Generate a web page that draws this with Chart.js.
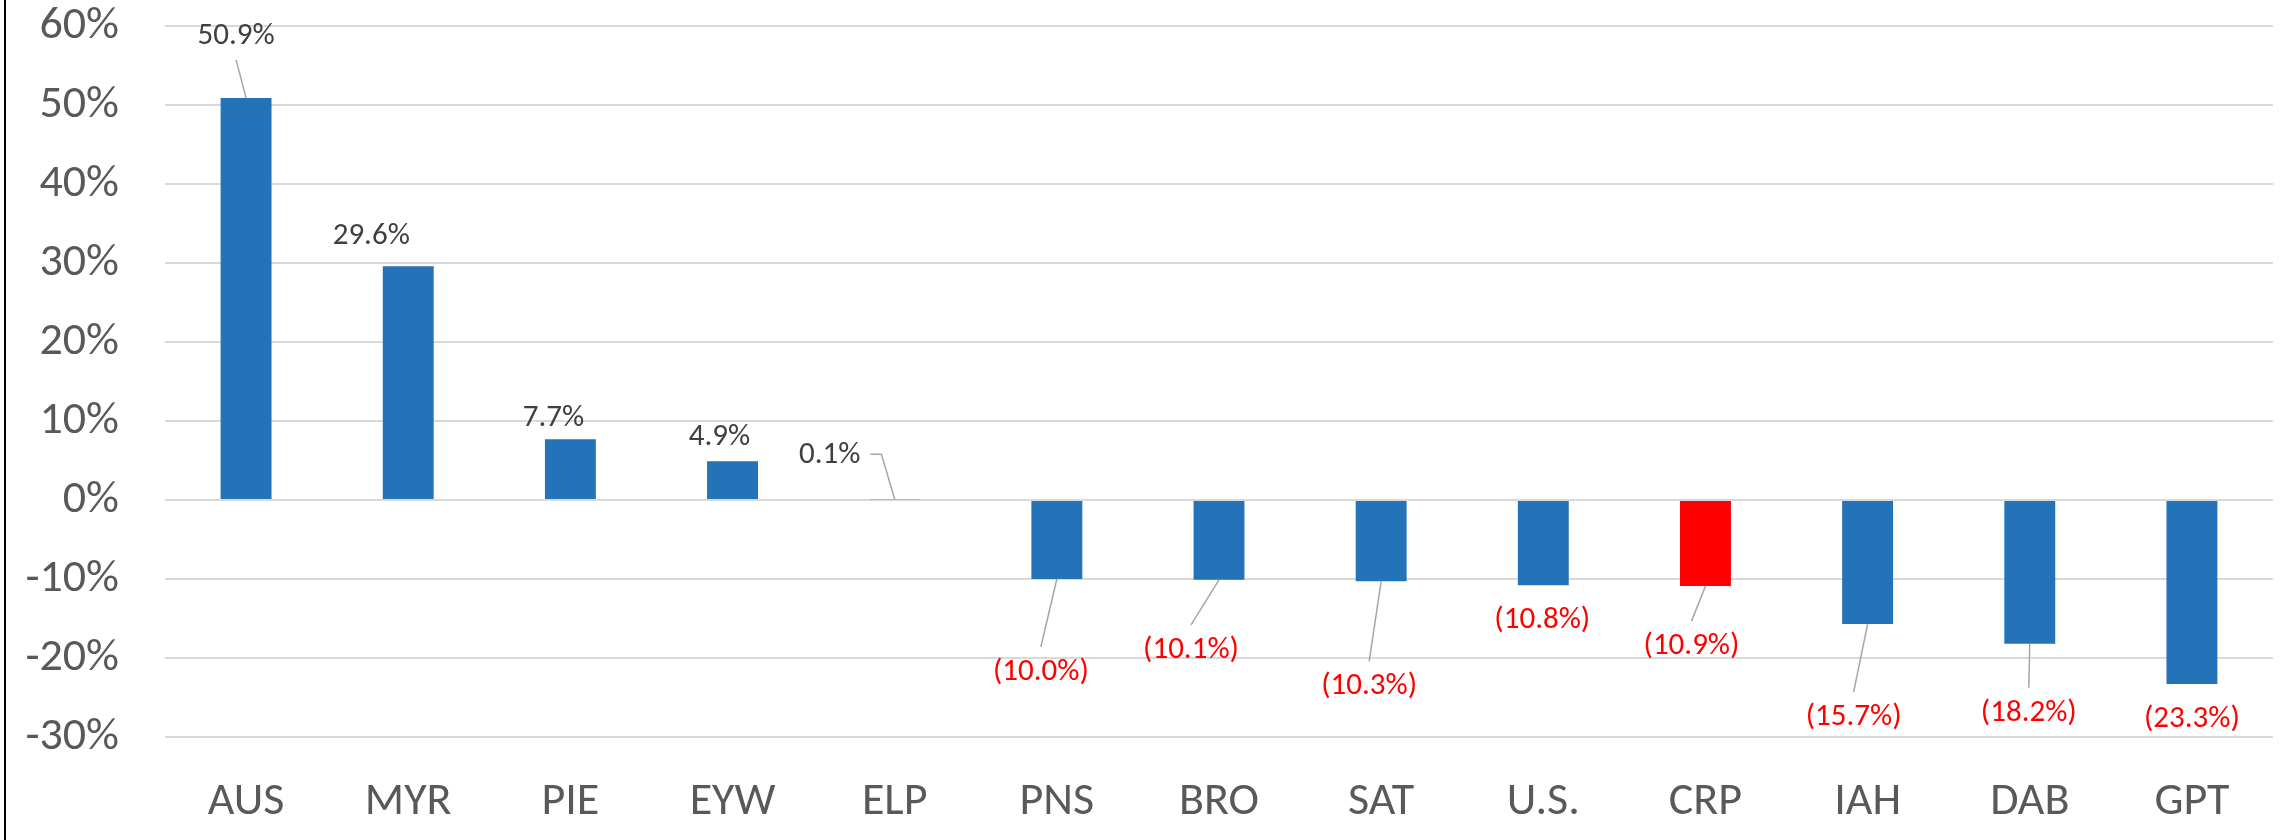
<!DOCTYPE html>
<html>
<head>
<meta charset="utf-8">
<script src="https://cdn.jsdelivr.net/npm/chart.js@4.4.1/dist/chart.umd.min.js"></script>
<style>
  html, body { margin: 0; padding: 0; background: #fff; }
  #wrap { width: 2292px; height: 840px; }
</style>
</head>
<body>
<div id="wrap"><canvas id="chart" width="2292" height="840"></canvas></div>
<script>
// Datos del gráfico
const categories = ['AUS', 'MYR', 'PIE', 'EYW', 'ELP', 'PNS', 'BRO', 'SAT', 'U.S.', 'CRP', 'IAH', 'DAB', 'GPT'];
const changes = [50.9, 29.6, 7.7, 4.9, 0.1, -10.0, -10.1, -10.3, -10.8, -10.9, -15.7, -18.2, -23.3];
const highlighted = 'CRP';
const yMin = -30;
const yMax = 60;
const yStep = 10;

// Posición de cada etiqueta respecto al extremo de la barra: [dx, dy, línea guía]
const labelOffsets = [
    [-10, -62, 'up'], [-37, -30, null], [-17, -21, null], [-13, -24, null], [-65, -44, 'elbow'],
    [-16, 93, 'down'], [-28, 70, 'down'], [-12, 105, 'down'], [-1, 35, null], [-14, 60, 'down'],
    [-14, 93, 'down'], [-1, 69, 'down'], [0, 35, null]
];

// Comprobar si hay una fuente tipo Calibri instalada
function hasFont(name) {
    const c = document.createElement('canvas').getContext('2d');
    const sample = 'AUS 60% (10.9%)';
    c.font = '40px monospace';
    const a = c.measureText(sample).width;
    c.font = `40px "${name}", monospace`;
    return c.measureText(sample).width !== a;
}
const carlito = hasFont('Carlito');
const fontFamily = carlito ? 'Carlito' : '"Liberation Sans"';
const tickSize = carlito ? 46 : 40;
const labelSize = carlito ? 31 : 27;

const blue = '#2473b9';
const red = '#ff0000';

function formatPct(v) {
    return v < 0 ? `(${Math.abs(v).toFixed(1)}%)` : `${v.toFixed(1)}%`;
}

const frame = {
    id: 'frame',
    beforeDraw(chart) {
        const ctx = chart.ctx;
        ctx.save();
        ctx.fillStyle = '#ffffff';
        ctx.fillRect(0, 0, chart.width, chart.height);
        ctx.fillStyle = '#000000';
        ctx.fillRect(4, 0, 2, chart.height);
        ctx.restore();
    }
};

const barLabels = {
    id: 'barLabels',
    afterDatasetsDraw(chart) {
        const ctx = chart.ctx;
        const meta = chart.getDatasetMeta(0);
        ctx.save();
        ctx.font = `${labelSize}px ${fontFamily}`;
        ctx.textAlign = 'center';
        ctx.textBaseline = 'middle';
        meta.data.forEach((bar, i) => {
            const v = changes[i];
            const [dx, dy, leader] = labelOffsets[i];
            const lx = bar.x + dx;
            const ly = bar.y + dy;
            const text = formatPct(v);
            ctx.strokeStyle = '#a6a6a6';
            ctx.lineWidth = 1.5;
            if (leader) {
                ctx.beginPath();
                if (leader === 'up') {
                    ctx.moveTo(lx, ly + 24);
                } else if (leader === 'down') {
                    ctx.moveTo(lx, ly - 25);
                } else {
                    const w = ctx.measureText(text).width;
                    ctx.moveTo(lx + w / 2 + 10, ly - 1);
                    ctx.lineTo(lx + w / 2 + 21, ly - 1);
                }
                ctx.lineTo(bar.x, bar.y);
                ctx.stroke();
            }
            ctx.fillStyle = v < 0 ? red : '#404040';
            ctx.fillText(text, lx, ly);
        });
        ctx.restore();
    }
};

const ctx = document.getElementById('chart').getContext('2d');
const chart = new Chart(ctx, {
    type: 'bar',
    data: {
        labels: categories,
        datasets: [{
            data: changes,
            backgroundColor: categories.map(c => c === highlighted ? red : blue),
            borderWidth: 0,
            categoryPercentage: 1,
            barPercentage: 0.314
        }]
    },
    options: {
        responsive: false,
        animation: false,
        devicePixelRatio: 1,
        layout: { padding: { top: 26, right: 19, bottom: 0, left: 0 } },
        plugins: {
            legend: { display: false },
            tooltip: { enabled: false }
        },
        scales: {
            x: {
                grid: { display: false },
                border: { display: false },
                ticks: {
                    color: '#595959',
                    padding: 34,
                    maxRotation: 0,
                    font: { family: fontFamily, size: tickSize, lineHeight: 1 }
                },
                afterFit(scale) {
                    scale.height = 103;
                    scale.paddingLeft = 0;
                    scale.paddingRight = 0;
                }
            },
            y: {
                min: yMin,
                max: yMax,
                grid: { color: '#d9d9d9', lineWidth: 2, drawTicks: false },
                border: { display: false },
                ticks: {
                    stepSize: yStep,
                    color: '#595959',
                    padding: 46,
                    font: { family: fontFamily, size: tickSize, lineHeight: 1 },
                    callback: v => v + '%'
                },
                afterFit(scale) {
                    scale.width = 165;
                    scale.paddingTop = 0;
                    scale.paddingBottom = 0;
                }
            }
        }
    },
    plugins: [frame, barLabels]
});
</script>
</body>
</html>
